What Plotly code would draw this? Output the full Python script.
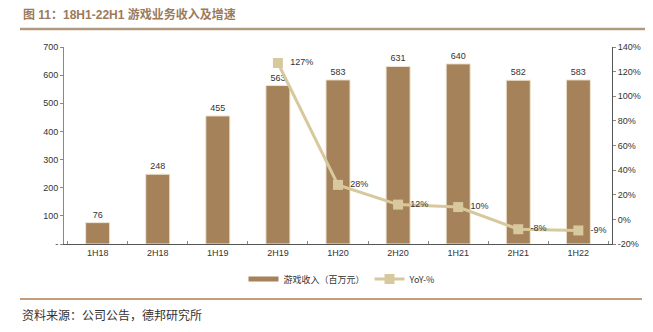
import plotly.graph_objects as go

categories = ["1H18", "2H18", "1H19", "2H19", "1H20", "2H20", "1H21", "2H21", "1H22"]
revenue = [76, 248, 455, 563, 583, 631, 640, 582, 583]
yoy = [None, None, None, 127, 28, 12, 10, -8, -9]
left_ticks = [0, 100, 200, 300, 400, 500, 600, 700]
left_labels = ["-", "100", "200", "300", "400", "500", "600", "700"]
right_ticks = [-20, 0, 20, 40, 60, 80, 100, 120, 140]

BAR = "#a5825a"
LINE = "#d8c89e"
FONT = "Liberation Sans, Arial, Noto Sans CJK SC"

PT, PB, PL, PR = 47, 244, 64, 612
H = PB - PT
W = PR - PL


def py(y):
    return (PB - y) / H


def px(x):
    return (x - PL) / W


fig = go.Figure()
fig.add_trace(go.Bar(
    x=categories, y=revenue, name="游戏收入（百万元）", showlegend=False,
    marker=dict(color=BAR, line=dict(color="#efe6d2", width=1)),
    text=[str(v) for v in revenue], textposition="outside",
    textfont=dict(size=9, color="#333333", family=FONT),
    cliponaxis=False, width=0.4,
))
# legend swatch for the bars (thin wide bar, as in the reference)
fig.add_trace(go.Scatter(
    x=[None], y=[None], name="游戏收入（百万元）", mode="lines",
    line=dict(color=BAR, width=5),
))
fig.add_trace(go.Scatter(
    x=categories, y=yoy, name="YoY-%", yaxis="y2", mode="lines+markers+text",
    line=dict(color=LINE, width=3),
    marker=dict(symbol="square", size=10, color=LINE),
    text=[("" if v is None else f"\u00a0\u00a0{v}%") for v in yoy],
    textposition="middle right",
    textfont=dict(size=9, color="#333333", family=FONT),
    cliponaxis=False,
))

fig.update_layout(
    width=653, height=332,
    margin=dict(l=PL, r=653 - PR, t=PT, b=332 - PB),
    paper_bgcolor="white", plot_bgcolor="white",
    font=dict(family=FONT, size=9, color="#333333"),
    showlegend=True,
    legend=dict(orientation="h", x=px(342), xanchor="center", y=py(279), yanchor="middle",
                font=dict(size=9, family="Noto Sans CJK SC, Liberation Sans"),
                traceorder="normal"),
    xaxis=dict(showline=True, linecolor="#555555", linewidth=1, ticks="inside",
               tickson="boundaries", ticklen=3, tickcolor="#888888",
               tickfont=dict(size=9), showgrid=False),
    yaxis=dict(range=[0, 700], tickvals=left_ticks, ticktext=left_labels,
               showline=True, linecolor="#888888", linewidth=1, ticks="outside",
               ticklen=3, tickcolor="#888888", showgrid=False, zeroline=False,
               tickfont=dict(size=9)),
    yaxis2=dict(range=[-20, 140], tickvals=right_ticks,
                ticktext=[f"{v}%" for v in right_ticks], overlaying="y", side="right",
                showline=True, linecolor="#555555", linewidth=1, ticks="outside",
                ticklen=3, tickcolor="#888888", showgrid=False, zeroline=False,
                tickfont=dict(size=9)),
    bargap=0.6,
)

fig.add_annotation(text="<b>图 11：18H1-22H1 游戏业务收入及增速</b>", xref="paper", yref="paper",
                   x=px(21), y=py(15), xanchor="left", yanchor="middle", showarrow=False,
                   font=dict(size=12, color="#9c7a5a", family="Liberation Sans, Noto Sans CJK SC"))
fig.add_shape(type="line", xref="paper", yref="paper", x0=px(20), x1=px(645),
              y0=py(29), y1=py(29), line=dict(color="#b39a7f", width=2.5))
fig.add_shape(type="line", xref="paper", yref="paper", x0=px(20), x1=px(642),
              y0=py(299), y1=py(299), line=dict(color="#b07d52", width=1.5))
fig.add_annotation(text="资料来源：公司公告，德邦研究所", xref="paper", yref="paper",
                   x=px(20), y=py(314), xanchor="left", yanchor="middle",
                   showarrow=False,
                   font=dict(size=12, color="#333333", family="Noto Sans CJK SC"))

fig.write_html("out.html")
